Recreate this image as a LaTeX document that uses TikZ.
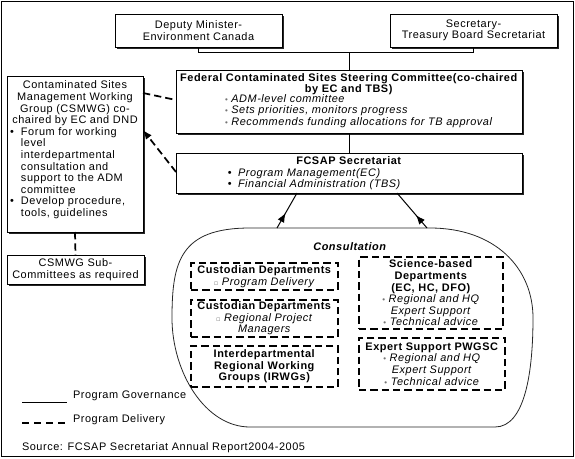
\documentclass[tikz,border=0pt]{standalone}
\usepackage{fontspec}
\setmainfont{Liberation Sans}[LetterSpace=5]
\newfontfamily\symfont{DejaVu Sans}
\usetikzlibrary{shadows,arrows.meta,decorations.markings}
\newcommand{\sbul}{{\fontsize{6}{6}\selectfont\color{black!55}•}}
\newcommand{\hsq}{{\symfont\fontsize{5}{5}\selectfont\color{black!50}▫}}
\newcommand{\bbul}{\makebox[8.25pt][l]{•}}
\newcommand{\bind}{\hspace*{8.25pt}}
\begin{document}
\begin{tikzpicture}[x=0.75pt,y=-0.75pt,
  every node/.style={inner sep=0pt,outer sep=0pt,font=\fontsize{8.2}{8.7}\selectfont},
  wh/.style 2 args={minimum width=#1*0.75pt,minimum height=#2*0.75pt},
  sbox/.style={draw=black,line width=0.75pt,fill=white,align=center,
    drop shadow={shadow xshift=1.2pt,shadow yshift=-1.2pt,fill=black,opacity=0.85}},
  dbox/.style={draw=black,line width=1.3pt,dash pattern=on 5.5pt off 3pt,align=center},
  dline/.style={line width=1.3pt,dash pattern=on 5.5pt off 3pt},
  gline/.style={line width=0.75pt},
  tip/.style={-{Latex[length=7pt,width=5.5pt]}},
  arrmid/.style={postaction={decorate},decoration={markings,
    mark=at position #1 with {\arrow{Latex[length=7pt,width=5.5pt]}}}}
]
\useasboundingbox (0,0) rectangle (575,458);
\draw[line width=0.75pt] (1,1) rectangle (573,456);

% top boxes
\node[sbox,wh={167}{33}] (dm) at (198.5,30.5) {Deputy Minister-\\Environment Canada};
\node[sbox,wh={167}{33}] (sec) at (473.5,30.5) {Secretary-\\Treasury Board Secretariat};
\node[sbox,wh={346}{63}] (sc) at (349,101.5) {};
\node[sbox,wh={346}{40}] (fc) at (349,173) {};
\node[sbox,wh={136}{156}] (cs) at (75,154) {};
\node[sbox,wh={137}{29}] (sub) at (75.5,269.5) {CSMWG Sub-\\Committees as required};

% steering committee text
\node[align=center] (sct) at (349,84) {\textbf{Federal Contaminated Sites Steering Committee(co-chaired}\\\textbf{by EC and TBS)}};
\node[align=left,anchor=west] (scb) at (225,111) {\sbul\ \textit{ADM-level committee}\\\sbul\ \textit{Sets priorities, monitors progress}\\\sbul\ \textit{Recommends funding allocations for TB approval}};

% FCSAP text
\node[align=left,anchor=west] (fct) at (226,173.5) {\makebox[184.5pt][c]{\textbf{FCSAP Secretariat}}\\\makebox[9pt][l]{\,•}\textit{Program Management(EC)}\\\makebox[9pt][l]{\,•}\textit{Financial Administration (TBS)}};

% CSMWG text
\node[align=center] (cst) at (75,103.5) {Contaminated Sites\\Management Working\\Group (CSMWG) co-\\chaired by EC and DND};
\node[align=left,anchor=west] (csb) at (10,173) {\bbul Forum for working\\\bind level\\\bind interdepartmental\\\bind consultation and\\\bind support to the ADM\\\bind committee\\\bbul Develop procedure,\\\bind tools, guidelines};

% connectors (governance)
\coordinate (junc) at (349,52.5);
\draw[gline] (dm.south) |- (junc) -| (sec.south);
\draw[gline] (junc) -- (sc.north);
\draw[gline] (sc.south) -- (fc.north);

% dashed (delivery)
\draw[dline] ([yshift=-12.75pt]cs.north east) -- ([yshift=-22.5pt]sc.north west);
\draw[dline,tip] ([yshift=-14.25pt]fc.north west) -- ([yshift=-40.5pt]cs.north east);
\draw[dline] (cs.south) -- (sub.north);

% consultation shape
\draw[line width=0.6pt,draw=black!85]
  (250,228) -- (430,228) .. controls (495,228) and (533,268) .. (533,318)
  .. controls (533,372) and (525,427) .. (495,427) -- (250,427)
  .. controls (205,427) and (172,372) .. (172,318)
  .. controls (172,262) and (180,228) .. (250,228) -- cycle;
\coordinate (ctl) at (277,228);
\coordinate (ctr) at (427,228);
\draw[gline,arrmid=0.43] (ctl) -- ([xshift=-39pt]fc.south);
\draw[gline,arrmid=0.37] (ctr) -- ([xshift=36pt]fc.south);

\node (con) at (350,247) {\textbf{\textit{Consultation}}};

\node[dbox,wh={147}{27}] (b1) at (264.5,276.5) {\textbf{Custodian Departments}\\\hsq\ \textit{Program Delivery}};
\node[dbox,wh={147}{37}] (b2) at (264.5,318.5) {\textbf{Custodian Departments}\\\hsq\ \textit{Regional Project}\\\textit{Managers}};
\node[dbox,wh={147}{41}] (b3) at (264.5,366.5) {\textbf{Interdepartmental}\\\textbf{Regional Working}\\\textbf{Groups (IRWGs)}};
\node[dbox,wh={144}{72}] (b4) at (431,293) {\textbf{Science-based}\\\textbf{Departments}\\\textbf{(EC, HC, DFO)}\\\sbul\ \textit{Regional and HQ}\\\textit{Expert Support}\\\sbul\ \textit{Technical advice}};
\node[dbox,wh={146}{52}] (b5) at (432,364) {\textbf{Expert Support PWGSC}\\\sbul\ \textit{Regional and HQ}\\\textit{Expert Support}\\\sbul\ \textit{Technical advice}};

% legend
\coordinate (lg1a) at (22,402); \coordinate (lg1b) at (67,402);
\coordinate (lg2a) at (22,423); \coordinate (lg2b) at (67,423);
\draw[line width=0.6pt] (lg1a) -- (lg1b);
\draw[line width=1pt,dash pattern=on 5.5pt off 3.5pt] (lg2a) -- (lg2b);
\node[anchor=west] (lgt1) at (73,396) {Program Governance};
\node[anchor=west] (lgt2) at (73,420) {Program Delivery};
\node[anchor=west] (src) at (22,448) {Source: FCSAP Secretariat Annual Report2004-2005};
\end{tikzpicture}
\end{document}
